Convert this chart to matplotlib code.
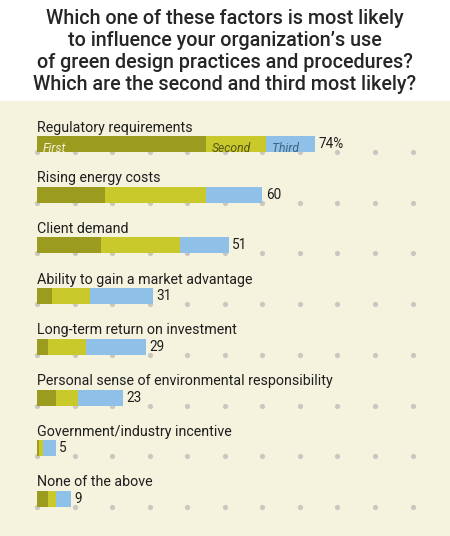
import matplotlib
matplotlib.use("Agg")
import matplotlib.pyplot as plt

categories = [
    "Regulatory requirements",
    "Rising energy costs",
    "Client demand",
    "Ability to gain a market advantage",
    "Long-term return on investment",
    "Personal sense of environmental responsibility",
    "Government/industry incentive",
    "None of the above",
]
first = [45, 18, 17, 4, 3, 5, 0.5, 3]
second = [16, 27, 21, 10, 10, 6, 1, 2]
third = [13, 15, 13, 17, 16, 12, 3.5, 4]
totals = [74, 60, 51, 31, 29, 23, 5, 9]
value_labels = ["74%", "60", "51", "31", "29", "23", "5", "9"]
grid_ticks = [0, 10, 20, 30, 40, 50, 60, 70, 80, 90, 100]
title_lines = [
    "Which one of these factors is most likely",
    "to influence your organization\u2019s use",
    "of green design practices and procedures?",
    "Which are the second and third most likely?",
]

FONT = ["Roboto", "DejaVu Sans"]
plt.rcParams["font.family"] = FONT

C1, C2, C3 = "#9b9b20", "#c9c92c", "#8fc0e8"
CREAM = "#f5f3de"
DOT = "#c9c8c0"
TXT = "#1e1e1e"

W, H = 450, 536
fig = plt.figure(figsize=(W / 100, H / 100), dpi=100)
fig.patch.set_facecolor("white")
renderer = fig.canvas.get_renderer()


def fit(t, target_px):
    w = t.get_window_extent(renderer).width
    t.set_fontsize(t.get_fontsize() * target_px / w)


top_px = 101
ax = fig.add_axes([0, 0, 1, (H - top_px) / H])
ax.set_facecolor(CREAM)
for s in ax.spines.values():
    s.set_visible(False)
ax.set_xticks([]); ax.set_yticks([])

x0_px, pxper = 37.0, 3.755
ax.set_xlim(-x0_px / pxper, (W - x0_px) / pxper)
row_px, c0_px = 50.7, 144.0
ax.set_ylim((H - c0_px) / row_px, -(c0_px - top_px) / row_px)

bh = 16 / row_px
n = len(categories)
ys = list(range(n))
for y in ys:
    ax.scatter(grid_ticks, [y + bh / 2] * len(grid_ticks), s=14, color=DOT,
               zorder=1, clip_on=False, linewidths=0)
ax.barh(ys, first, height=bh, color=C1, zorder=2)
ax.barh(ys, second, left=first, height=bh, color=C2, zorder=2)
lefts3 = [a + b for a, b in zip(first, second)]
ax.barh(ys, third, left=lefts3, height=bh, color=C3, zorder=2)

lab_texts = []
val_texts = []
for y, cat, tot, lab in zip(ys, categories, totals, value_labels):
    t = ax.text(0, y - 0.245, cat, fontsize=11, color=TXT, va="baseline", ha="left")
    lab_texts.append(t)
    v = ax.text(tot + 0.9, y + 0.0, lab, fontsize=10, color=TXT, va="center", ha="left")
    val_texts.append(v)
fit(lab_texts[0], 146)
ls = lab_texts[0].get_fontsize() * 1.06
for t in lab_texts:
    t.set_fontsize(ls)
for v in val_texts:
    v.set_fontsize(ls * 0.95)

# in-bar legend labels for first row
tf = ax.text(1.5, 0.08, "First", fontsize=8.5, style="italic", color="#f3f1d8", va="center")
fit(tf, 23)
ax.text(first[0] + 1.5, 0.08, "Second", fontsize=tf.get_fontsize(), style="italic",
        color="#55561a", va="center")
ax.text(first[0] + second[0] + 1.5, 0.08, "Third", fontsize=tf.get_fontsize(),
        style="italic", color="#3d6585", va="center")

baselines = [24, 46.5, 68.5, 89.5]
tts = []
for line, b in zip(title_lines, baselines):
    tt = fig.text(0.5, 1 - b / H, line, fontsize=14, color="#262626", ha="center",
                  va="baseline", fontweight="medium")
    tts.append(tt)
fit(tts[3], 384)
for tt in tts:
    tt.set_fontsize(tts[3].get_fontsize())

fig.savefig("out.png", dpi=100)
